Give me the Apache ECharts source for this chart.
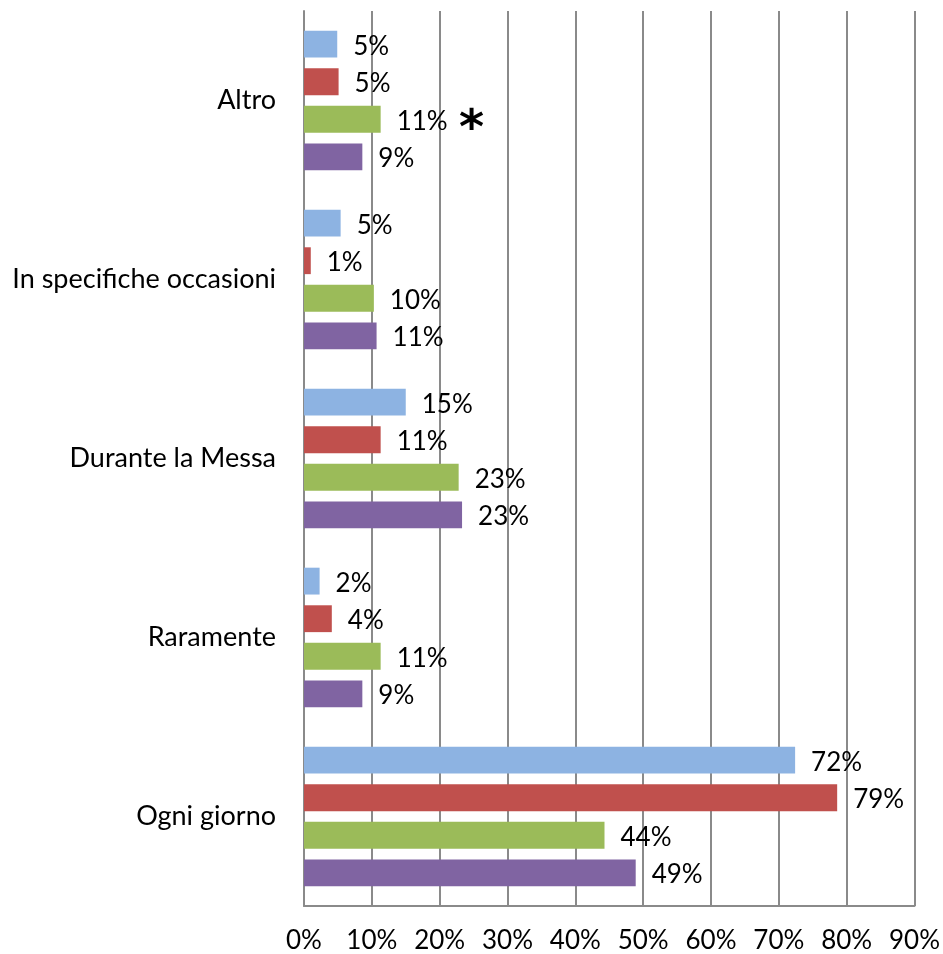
<!DOCTYPE html>
<html>
<head>
<meta charset="utf-8">
<script src="https://cdn.jsdelivr.net/npm/echarts@6/dist/echarts.min.js"></script>
<style>
html, body { margin: 0; padding: 0; background: #fff; }
#chart { width: 943px; height: 954px; }
</style>
</head>
<body>
<div id="chart"></div>
<script>
// categories, bottom to top as drawn
var categories = ['Ogni giorno', 'Raramente', 'Durante la Messa', 'In specifiche occasioni', 'Altro'];
// values in %
var blueVals   = [72.4, 2.3, 15.0, 5.4, 4.9];
var redVals    = [78.6, 4.1, 11.3, 1.0, 5.1];
var greenVals  = [44.3, 11.3, 22.8, 10.3, 11.3];
var purpleVals = [48.9, 8.6, 23.3, 10.7, 8.6];
var xTicks = [0, 10, 20, 30, 40, 50, 60, 70, 80, 90];

var font = 'Lato';
var chart = echarts.init(document.getElementById('chart'));

function makeSeries(name, data, color) {
    return {
        name: name,
        type: 'bar',
        data: data,
        barGap: '40%',
        barCategoryGap: '22%',
        itemStyle: { color: color },
        label: {
            show: true,
            position: 'right',
            distance: 16,
            offset: [0, 2],
            color: '#000',
            fontFamily: font,
            fontSize: 26,
            formatter: function (p) { return Math.round(p.value) + '%'; }
        },
        emphasis: { disabled: true }
    };
}

var option = {
    animation: false,
    grid: { left: 304, right: 26, top: 11, bottom: 47, containLabel: false },
    xAxis: {
        type: 'value',
        min: xTicks[0],
        max: xTicks[xTicks.length - 1],
        interval: 10,
        axisLine: { show: true, lineStyle: { color: '#8a8a8a', width: 2 } },
        axisTick: { show: false },
        splitLine: { show: true, lineStyle: { color: '#8a8a8a', width: 2 } },
        axisLabel: {
            margin: 22,
            color: '#000',
            fontFamily: font,
            fontSize: 26,
            formatter: '{value}%'
        }
    },
    yAxis: {
        type: 'category',
        data: categories,
        axisLine: { show: true, lineStyle: { color: '#8a8a8a', width: 2 } },
        axisTick: { show: false },
        axisLabel: { margin: 28, color: '#000', fontFamily: font, fontSize: 27 }
    },
    series: [
        makeSeries('s1', blueVals, '#8DB3E2'),
        makeSeries('s2', redVals, '#C0504D'),
        makeSeries('s3', greenVals, '#9BBB59'),
        makeSeries('s4', purpleVals, '#8064A2')
    ],
    graphic: [{
        type: 'text',
        left: 459,
        top: 107,
        style: { text: '*', font: 'bold 48px "DejaVu Sans"', fill: '#000' }
    }]
};
chart.setOption(option);
</script>
</body>
</html>
